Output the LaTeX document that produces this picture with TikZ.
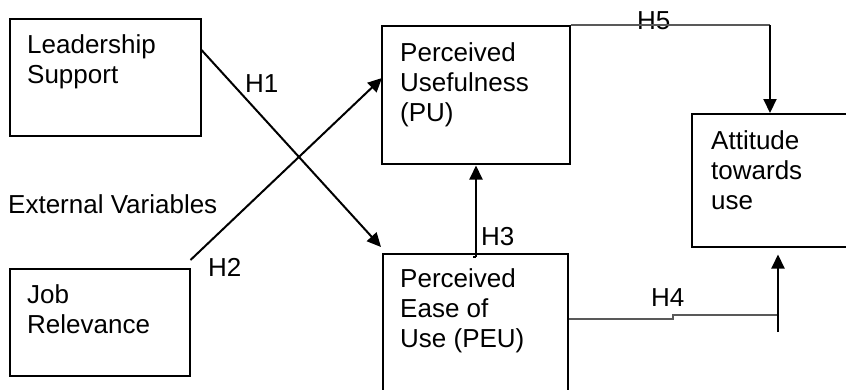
\documentclass[tikz,border=0pt]{standalone}
\usepackage{fontspec}
\setmainfont{Liberation Sans}
\usetikzlibrary{arrows.meta,calc}
\begin{document}
\begin{tikzpicture}[x=1pt,y=-1pt,
  box/.style={draw=black,line width=1.5pt,inner sep=0pt,anchor=north west},
  txt/.style={inner sep=0pt,align=left,font=\fontsize{26pt}{30pt}\selectfont},
  arr/.style={line width=2pt,-{Triangle[length=14pt,width=13pt]}},
  thin/.style={draw=black!65,line width=1.1pt}]
\useasboundingbox (0,0) rectangle (846,389);
\clip (0,0) rectangle (846,389);
% boxes
\node[box,minimum width=191pt,minimum height=117pt] (ls) at (9,18) {};
\node[box,minimum width=180pt,minimum height=107pt] (jr) at (9,268) {};
\node[box,minimum width=188pt,minimum height=138pt] (pu) at (381,25) {};
\node[box,minimum width=185pt,minimum height=160pt] (peu) at (382,253) {};
\node[box,minimum width=180pt,minimum height=133pt] (att) at (691,113) {};
% texts
\node[txt,anchor=north west] (lst) at (27,34.7) {Leadership\\Support};
\node[txt,anchor=north west] (jrt) at (27,284.4) {Job\\Relevance};
\node[txt,anchor=north west] (put) at (400,42.4) {Perceived\\Usefulness\\(PU)};
\node[txt,anchor=north west] (peut) at (400,268.4) {Perceived\\Ease of\\Use (PEU)};
\node[txt,anchor=north west] (attt) at (711,130.4) {Attitude\\towards\\use};
\node[txt,anchor=base west] (ext) at (8,213) {External Variables};
\node[txt,anchor=base west] (h1) at (245,92) {H1};
\node[txt,anchor=base west] (h2) at (208,276) {H2};
\node[txt,anchor=base west] (h3) at (481,245) {H3};
\node[txt,anchor=base west] (h4) at (651,306) {H4};
\node[txt,anchor=base west] (h5) at (637,29) {H5};
% connector end points
\coordinate (h1s) at ($(ls.north east)+(0,32)$);
\coordinate (h1e) at ($(peu.north west)+(-1,-6)$);
\coordinate (h2s) at ($(jr.north east)+(0,-8)$);
\coordinate (h2e) at ($(pu.north west)+(1,53)$);
\coordinate (h3s) at (peu.north -| 476,0);
\coordinate (h3e) at (pu.south -| 476,0);
\coordinate (h5c) at (pu.north east -| 770,0);
\coordinate (h5e) at (att.north -| 770,0);
\coordinate (h4s) at (peu.east |- 0,319);
\coordinate (h4a) at (673,319);
\coordinate (h4b) at (673,315);
\coordinate (h4c) at (778,315);
\coordinate (h4d) at (778,332);
\coordinate (h4e) at ($(att.south -| 778,0)+(0,7)$);
% connectors
\draw[arr] (h1s) -- (h1e);
\draw[arr] (h2s) -- (h2e);
\draw[line width=1.8pt] ($(h3s)+(-3,4)$) -- ($(h3s)+(0,4)$);
\draw[arr] ($(h3s)+(0,4)$) -- ($(h3e)+(0,1)$);
\draw[thin] (pu.north east) -- (h5c);
\draw[arr] (h5c) -- (h5e);
\draw[thin] (h4s) -- (h4a) -- (h4b) -- (h4c);
\draw[arr] (h4d) -- (h4e);
\end{tikzpicture}
\end{document}
